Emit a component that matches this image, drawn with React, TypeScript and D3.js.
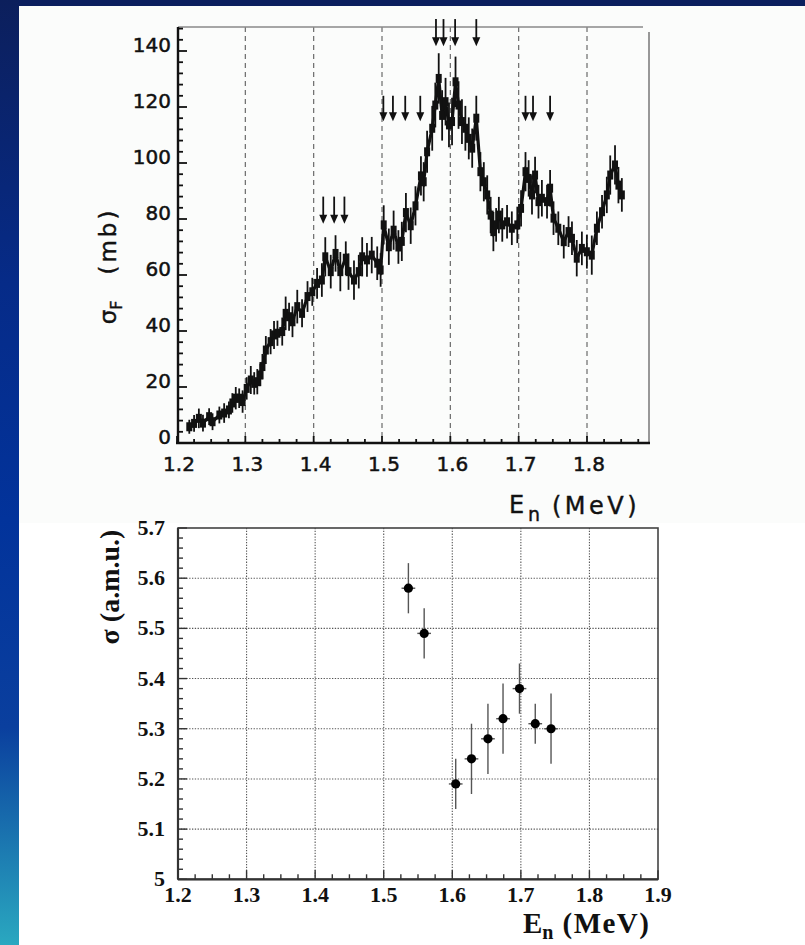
import React from "react";
import * as d3 from "d3";

// Fission cross section σF (mb) vs neutron energy: [E (MeV), σF, ±err]
const fissionPoints: [number, number, number][] = [
  [1.218, 5.8, 2.5], [1.225, 7.0, 3], [1.232, 8.8, 3.5], [1.238, 7.1, 3],
  [1.247, 9.4, 3], [1.252, 7.6, 3], [1.262, 10.0, 3], [1.269, 10.7, 3.5],
  [1.276, 11.8, 3], [1.281, 14.3, 3.5], [1.286, 16.0, 4], [1.291, 16.0, 3.5],
  [1.296, 14.8, 4], [1.302, 19.5, 4], [1.308, 22.5, 5], [1.313, 21.3, 4],
  [1.3175, 21.9, 4.5], [1.322, 24.3, 4], [1.325, 27.3, 4.5], [1.33, 33.2, 5],
  [1.337, 36.2, 4.5], [1.342, 38.6, 5], [1.347, 39.2, 4.5], [1.354, 39.8, 5],
  [1.359, 46.3, 6], [1.364, 45.1, 5], [1.369, 43.3, 5.5], [1.376, 48.7, 6],
  [1.383, 46.3, 5], [1.391, 52.3, 5.5], [1.398, 54.0, 5], [1.405, 57.0, 5.5],
  [1.412, 58.2, 6], [1.417, 66.5, 7], [1.425, 61.2, 6], [1.432, 67.7, 6.5],
  [1.439, 61.2, 7], [1.447, 66.0, 6], [1.451, 61.2, 6.5], [1.459, 58.2, 7],
  [1.466, 61.2, 6], [1.471, 66.5, 7], [1.478, 65.4, 6], [1.485, 67.1, 6.5],
  [1.493, 64.2, 6], [1.498, 61.8, 6], [1.5025, 77.9, 7], [1.51, 70.1, 6.5],
  [1.517, 76.0, 7], [1.524, 70.0, 6], [1.529, 72.0, 7], [1.535, 82.3, 7],
  [1.542, 77.6, 6.5], [1.549, 84.7, 7], [1.557, 95.4, 7], [1.561, 93.3, 7],
  [1.566, 104.0, 7.5], [1.5735, 112.4, 8], [1.578, 120.7, 8], [1.583, 130.2, 9],
  [1.588, 117.0, 9], [1.593, 121.9, 8.5], [1.598, 113.6, 8], [1.6025, 114.8, 8.5],
  [1.6076, 129.0, 9], [1.612, 120.7, 8.5], [1.617, 114.8, 8], [1.622, 112.4, 8],
  [1.627, 108.8, 7.5], [1.632, 105.3, 7], [1.638, 116.0, 8], [1.644, 96.9, 7],
  [1.649, 93.3, 7], [1.654, 88.6, 7], [1.659, 81.4, 6.5], [1.663, 75.5, 7],
  [1.667, 77.9, 6], [1.671, 81.4, 6.5], [1.676, 77.9, 6], [1.683, 79.0, 6],
  [1.69, 76.7, 6], [1.698, 77.9, 6.5], [1.7035, 83.8, 6.5], [1.71, 96.9, 7],
  [1.7146, 94.5, 6.5], [1.7195, 88.6, 7], [1.724, 95.7, 6.5], [1.729, 86.2, 6],
  [1.734, 87.4, 6.5], [1.7415, 86.2, 6], [1.746, 91.0, 6.5], [1.751, 80.3, 6],
  [1.758, 76.7, 6], [1.766, 71.9, 6], [1.773, 75.5, 5.5], [1.778, 73.1, 6],
  [1.785, 66.0, 6.5], [1.7925, 69.5, 6], [1.7998, 68.3, 6], [1.807, 67.1, 7],
  [1.8145, 76.7, 6], [1.822, 82.6, 6], [1.829, 88.6, 6.5], [1.834, 95.7, 7],
  [1.841, 99.3, 7], [1.846, 92.1, 6.5], [1.851, 88.6, 6],
];

// Resonance markers: energy, arrow head (mb), arrow tail (mb)
const arrowEnergies = [
  1.414, 1.43, 1.445,
  1.502, 1.516, 1.534, 1.556,
  1.579, 1.59, 1.607, 1.638,
  1.71, 1.721, 1.746,
];
const arrowHeads = [79.4, 79.4, 79.4, 116, 116, 116, 116, 142.8, 142.8, 142.8, 142.8, 116, 116, 116];
const arrowTails = [88, 88, 88, 124, 124, 124, 124, 151.4, 151.4, 151.4, 151.4, 124, 124, 124];

const topXTicks = [1.2, 1.3, 1.4, 1.5, 1.6, 1.7, 1.8];
const topYTicks = [0, 20, 40, 60, 80, 100, 120, 140];

// Width σ (a.m.u.) of the mass distribution
const widthEnergy = [1.536, 1.559, 1.605, 1.628, 1.652, 1.674, 1.698, 1.721, 1.744];
const widthSigma = [5.58, 5.49, 5.19, 5.24, 5.28, 5.32, 5.38, 5.31, 5.3];
const widthErr = [0.05, 0.05, 0.05, 0.07, 0.07, 0.07, 0.05, 0.04, 0.07];
const energyErr = 0.01;

const botXTicks = [1.2, 1.3, 1.4, 1.5, 1.6, 1.7, 1.8, 1.9];
const botXLabels = ["1.2", "1.3", "1.4", "1.5", "1.6", "1.7", "1.8", "1.9"];
const botYTicks = [5.0, 5.1, 5.2, 5.3, 5.4, 5.5, 5.6, 5.7];
const botYLabels = ["5", "5.1", "5.2", "5.3", "5.4", "5.5", "5.6", "5.7"];

const sansFont = "'DejaVu Sans', sans-serif";
const serifFont = "'Liberation Serif', 'Times New Roman', serif";

export default function App() {
  const W = 805;
  const H = 945;

  // upper panel scales
  const xT = d3.scaleLinear().domain([1.2, 1.8]).range([177, 587]);
  const yT = d3.scaleLinear().domain([0, 140]).range([443, 51]);
  const tLeft = 178, tRight = 649, tTop = 27, tBottom = 443;

  const topMinorY = d3.range(0, 149, 4);
  const topMinorX = d3.range(1.2, 1.89, 0.025);

  // lower panel scales
  const xB = d3.scaleLinear().domain([1.2, 1.9]).range([178, 658]);
  const yB = d3.scaleLinear().domain([5.0, 5.7]).range([879.3, 528]);
  const botMinorY = d3.range(5.0, 5.7001, 0.02);
  const botMinorX = d3.range(1.2, 1.9001, 0.025);

  const line = d3
    .line<[number, number, number]>()
    .x((d) => xT(d[0]))
    .y((d) => yT(d[1]));

  const tickText = { fontFamily: sansFont, fontSize: 20, fill: "#111", stroke: "#111", strokeWidth: 0.5 };

  return (
    <svg
      width={W}
      height={H}
      style={{ position: "absolute", left: 0, top: 0, background: "#fff" }}
    >
      <defs>
        <linearGradient id="sideBand" x1="0" y1="0" x2="0" y2="1">
          <stop offset="0" stopColor="#0c1f5c" />
          <stop offset="0.3" stopColor="#062b88" />
          <stop offset="0.55" stopColor="#02339b" />
          <stop offset="0.77" stopColor="#0a3f9e" />
          <stop offset="1" stopColor="#2aa8c0" />
        </linearGradient>
      </defs>

      {/* slide frame */}
      <rect x={0} y={0} width={W} height={H} fill="#ffffff" />
      <rect x={19} y={6} width={W - 19} height={517} fill="#fbfcfb" />
      <rect x={0} y={0} width={W} height={6} fill="#0b1f5e" />
      <rect x={0} y={0} width={19} height={H} fill="url(#sideBand)" />

      {/* ================= upper panel ================= */}
      <g>
        {topXTicks.slice(1).map((t) => (
          <line
            key={"vg" + t}
            x1={xT(t)}
            x2={xT(t)}
            y1={tTop}
            y2={tBottom}
            stroke="#6a6a6a"
            strokeWidth={1.2}
            strokeDasharray="5,4"
          />
        ))}
        <line x1={tLeft} x2={643} y1={tTop} y2={tTop} stroke="#8a8a8a" strokeWidth={1.6} />
        <line x1={tRight} x2={tRight} y1={32} y2={tBottom} stroke="#777" strokeWidth={1.5} />
        <line x1={tLeft} x2={tLeft} y1={tTop} y2={tBottom + 1} stroke="#111" strokeWidth={2.4} />
        <line x1={176} x2={650} y1={tBottom} y2={tBottom} stroke="#111" strokeWidth={2.6} />

        {topMinorY.map((v) => (
          <line key={"ym" + v} x1={tLeft} x2={tLeft + (v % 20 === 0 ? 9 : 5)} y1={yT(v)} y2={yT(v)} stroke="#111" strokeWidth={1.8} />
        ))}
        {topMinorX.map((v, i) => (
          <line key={"xm" + i} x1={xT(v)} x2={xT(v)} y1={tBottom} y2={tBottom - (i % 4 === 0 ? 7 : 4)} stroke="#111" strokeWidth={1.8} />
        ))}

        {topYTicks.map((v) => (
          <text key={"yl" + v} x={171} y={yT(v) + 1} textAnchor="end" {...tickText}>
            {v}
          </text>
        ))}
        {topXTicks.map((v) => (
          <text key={"xl" + v} x={xT(v) + 2} y={471} textAnchor="middle" {...tickText}>
            {v.toFixed(1)}
          </text>
        ))}

        {/* data: error bars and markers */}
        <path d={line(fissionPoints) || ""} fill="none" stroke="#111" strokeWidth={3.2} />
        {fissionPoints.map(([e, v, err], i) => (
          <g key={"fp" + i}>
            <line x1={xT(e)} x2={xT(e)} y1={yT(v + err)} y2={yT(v - err)} stroke="#111" strokeWidth={1.8} />
            <rect x={xT(e) - 3} y={yT(v) - 4.5} width={6} height={9} fill="#111" />
          </g>
        ))}

        {/* resonance arrows */}
        {arrowEnergies.map((e, i) => {
          const x = xT(e);
          const yh = yT(arrowHeads[i]);
          const yt = yT(arrowTails[i]);
          return (
            <g key={"ar" + i}>
              <line x1={x} x2={x} y1={yt} y2={yh - 4} stroke="#111" strokeWidth={1.8} />
              <path d={`M${x - 4},${yh - 6} L${x + 4},${yh - 6} L${x},${yh + 3} Z`} fill="#111" />
            </g>
          );
        })}

        {/* axis titles */}
        <text transform="translate(116,266) rotate(-90)" textAnchor="middle" fontFamily={sansFont} fontSize={23} fill="#111" stroke="#111" strokeWidth={0.4}>
          σ
          <tspan dy={6} fontSize={16}>F</tspan>
          <tspan dy={-6} dx={26} letterSpacing={3}>(mb)</tspan>
        </text>
        <text x={509} y={513} fontFamily={sansFont} fontSize={24} fill="#111" stroke="#111" strokeWidth={0.4}>
          E
        </text>
        <text x={528} y={521} fontFamily={sansFont} fontSize={19} fill="#111" stroke="#111" strokeWidth={0.4}>
          n
        </text>
        <text x={552} y={514} fontFamily={sansFont} fontSize={24} letterSpacing={3.5} fill="#111" stroke="#111" strokeWidth={0.4}>
          (MeV)
        </text>
      </g>

      {/* ================= lower panel ================= */}
      <g>
        {botXTicks.slice(1, -1).map((t) => (
          <line key={"bvg" + t} x1={xB(t)} x2={xB(t)} y1={yB(5.7)} y2={yB(5.0)} stroke="#555" strokeWidth={1.1} strokeDasharray="1.3,1.5" />
        ))}
        {botYTicks.slice(1, -1).map((t) => (
          <line key={"bhg" + t} x1={xB(1.2)} x2={xB(1.9)} y1={yB(t)} y2={yB(t)} stroke="#555" strokeWidth={1.1} strokeDasharray="1.3,1.5" />
        ))}
        <rect x={xB(1.2)} y={yB(5.7)} width={xB(1.9) - xB(1.2)} height={yB(5.0) - yB(5.7)} fill="none" stroke="#444" strokeWidth={1.6} />
        <line x1={xB(1.2)} x2={xB(1.2)} y1={yB(5.7)} y2={yB(5.0)} stroke="#333" strokeWidth={2.2} />
        <line x1={xB(1.2)} x2={xB(1.9)} y1={yB(5.0)} y2={yB(5.0)} stroke="#333" strokeWidth={2.2} />

        {botMinorY.map((v, i) => (
          <line key={"bym" + i} x1={xB(1.2)} x2={xB(1.2) + (i % 5 === 0 ? 9 : 5)} y1={yB(v)} y2={yB(v)} stroke="#333" strokeWidth={1.4} />
        ))}
        {botMinorX.map((v, i) => (
          <line key={"bxm" + i} x1={xB(v)} x2={xB(v)} y1={yB(5.0)} y2={yB(5.0) - (i % 4 === 0 ? 9 : 5)} stroke="#333" strokeWidth={1.4} />
        ))}

        {botYTicks.map((v, i) => (
          <text key={"byl" + i} x={165} y={yB(v) + 7} textAnchor="end" fontFamily={serifFont} fontWeight="bold" fontSize={22} fill="#111">
            {botYLabels[i]}
          </text>
        ))}
        {botXTicks.map((v, i) => (
          <text key={"bxl" + i} x={xB(v)} y={902} textAnchor="middle" fontFamily={serifFont} fontWeight="bold" fontSize={22} fill="#111">
            {botXLabels[i]}
          </text>
        ))}

        {widthEnergy.map((e, i) => (
          <g key={"wp" + i}>
            <line x1={xB(e)} x2={xB(e)} y1={yB(widthSigma[i] + widthErr[i])} y2={yB(widthSigma[i] - widthErr[i])} stroke="#555" strokeWidth={1.4} />
            <line x1={xB(e - energyErr)} x2={xB(e + energyErr)} y1={yB(widthSigma[i])} y2={yB(widthSigma[i])} stroke="#555" strokeWidth={1.4} />
            <circle cx={xB(e)} cy={yB(widthSigma[i])} r={4.6} fill="#000" />
          </g>
        ))}

        <text transform="translate(119,587) rotate(-90)" textAnchor="middle" fontFamily={serifFont} fontWeight="bold" fontSize={28} fill="#111">
          σ (a.m.u.)
        </text>
        <text x={523} y={933} fontFamily={serifFont} fontWeight="bold" fontSize={29} fill="#111">
          E
          <tspan dy={6} fontSize={20}>n</tspan>
          <tspan dy={-6} dx={9} letterSpacing={1.5}>(MeV)</tspan>
        </text>
      </g>
    </svg>
  );
}
